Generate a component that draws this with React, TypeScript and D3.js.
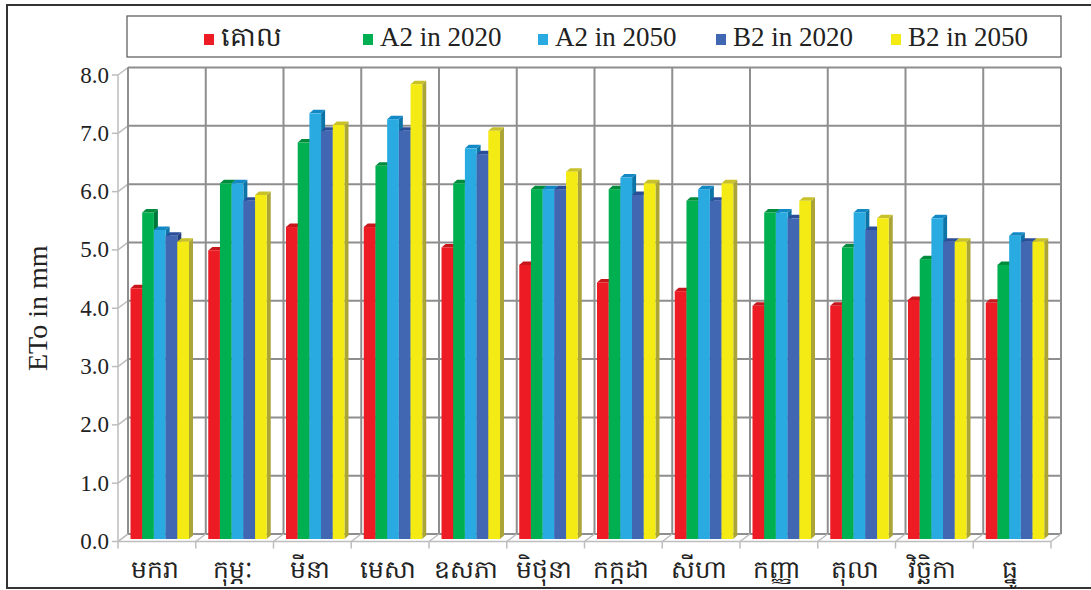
import React from "react";
import * as d3 from "d3";

const months = ["មករា", "កុម្ភៈ", "មីនា", "មេសា", "ឧសភា", "មិថុនា", "កក្កដា", "សីហា", "កញ្ញា", "តុលា", "វិច្ឆិកា", "ធ្នូ"];
const seriesNames = ["គោល", "A2 in 2020", "A2 in 2050", "B2 in 2020", "B2 in 2050"];
const baseline = [4.3, 4.95, 5.35, 5.35, 5.0, 4.7, 4.4, 4.25, 4.0, 4.0, 4.1, 4.05];
const a2in2020 = [5.6, 6.1, 6.8, 6.4, 6.1, 6.0, 6.0, 5.8, 5.6, 5.0, 4.8, 4.7];
const a2in2050 = [5.3, 6.1, 7.3, 7.2, 6.7, 6.0, 6.2, 6.0, 5.6, 5.6, 5.5, 5.2];
const b2in2020 = [5.2, 5.8, 7.0, 7.0, 6.6, 6.0, 5.9, 5.8, 5.5, 5.3, 5.1, 5.1];
const b2in2050 = [5.1, 5.9, 7.1, 7.8, 7.0, 6.3, 6.1, 6.1, 5.8, 5.5, 5.1, 5.1];
const yTicks = [0, 1, 2, 3, 4, 5, 6, 7, 8];

const seriesValues = [baseline, a2in2020, a2in2050, b2in2020, b2in2050];
const colors = ["#ED1C24", "#00B050", "#29ABE2", "#4267B2", "#F4EA14"];
const topColors = ["#C8161D", "#008C3C", "#1288C4", "#2A4E98", "#C9C12A"];
const sideColors = ["#A91218", "#00773A", "#0D74A8", "#22407F", "#ABA437"];

// layout
const W = 1091, H = 590;
const FX0 = 118, FX1 = 1051; // front plane x extent
const DX = 10, DY = 7.5; // wall depth offset
const FY0 = 541.5, FY8 = 75; // front axis range
const BAR_DEPTH = 0.33;
const legendX = [204, 363, 538, 716, 891];

export default function App() {
  const yFront = d3.scaleLinear().domain([0, 8]).range([FY0, FY8]);
  const yBack = d3.scaleLinear().domain([0, 8]).range([FY0 - DY, FY8 - DY]);
  const yBar = d3.scaleLinear().domain([0, 8]).range([FY0 - DY * BAR_DEPTH, FY8 - DY * BAR_DEPTH]);
  const xFront = d3.scaleBand<string>().domain(months).range([FX0, FX1]).padding(0);
  const xInner = d3.scaleBand<number>().domain(d3.range(seriesNames.length)).range([12.5, 71]).padding(0);
  const bw = xInner.bandwidth();
  const tdx = 4, tdy = 3.5;

  const gridColor = "#8E8E8E";
  const floorColor = "#BDBDBD";
  const font = "'Liberation Serif', 'Times New Roman', serif";

  const boundaries = d3.range(months.length + 1).map((i) => FX0 + i * xFront.step());

  return (
    <svg width={W} height={H} style={{ position: "absolute", left: 0, top: 0, background: "#fff" }} fontFamily={font}>
      <rect x={0} y={0} width={W} height={H} fill="#fff" />
      {/* outer frame */}
      <rect x={7} y={5} width={W + 10} height={583} fill="none" stroke="#333" strokeWidth={2} />

      {/* left side wall */}
      <g stroke={floorColor} strokeWidth={1.5} fill="none">
        <line x1={FX0} y1={yFront(0)} x2={FX0} y2={yFront(8)} />
        {yTicks.map((t) => (
          <line key={t} x1={FX0} y1={yFront(t)} x2={FX0 + DX} y2={yBack(t)} />
        ))}
      </g>
      {/* back wall grid */}
      <g stroke={gridColor} strokeWidth={2} fill="none">
        {yTicks.map((t) => (
          <line key={t} x1={FX0 + DX} y1={yBack(t)} x2={FX1 + DX} y2={yBack(t)} />
        ))}
        {boundaries.map((bx, i) => (
          <line key={i} x1={bx + DX} y1={yBack(0)} x2={bx + DX} y2={yBack(8)} />
        ))}
      </g>
      {/* floor */}
      <g stroke={floorColor} strokeWidth={1.5} fill="none">
        <line x1={FX0} y1={yFront(0)} x2={FX1} y2={yFront(0)} />
        {boundaries.map((bx, i) => (
          <g key={i}>
            <line x1={bx} y1={yFront(0)} x2={bx + DX} y2={yBack(0)} />
            <line x1={bx} y1={yFront(0)} x2={bx} y2={yFront(0) + 7} />
          </g>
        ))}
      </g>
      {/* y ticks */}
      <g stroke={floorColor} strokeWidth={1.5}>
        {yTicks.map((t) => (
          <line key={t} x1={FX0 - 6} y1={yFront(t)} x2={FX0} y2={yFront(t)} />
        ))}
      </g>
      <g fontSize={23} fill="#222" textAnchor="end">
        {yTicks.map((t) => (
          <text key={t} x={109} y={yFront(t) + 7.5}>{d3.format(".1f")(t)}</text>
        ))}
      </g>
      <text transform={`translate(47, ${(yFront(0) + yFront(8)) / 2}) rotate(-90)`} textAnchor="middle" fontSize={28} fill="#222">ETo in mm</text>

      {/* bars */}
      {months.map((m, i) => (
        <g key={m}>
          {seriesValues.map((vals, j) => {
            const x = (xFront(m) as number) + (xInner(j) as number);
            const y = yBar(vals[i]);
            const y0 = yBar(0);
            return (
              <g key={j}>
                <polygon points={`${x + bw},${y} ${x + bw + tdx},${y - tdy} ${x + bw + tdx},${y0 - tdy} ${x + bw},${y0}`} fill={sideColors[j]} />
                <polygon points={`${x},${y} ${x + tdx},${y - tdy} ${x + bw + tdx},${y - tdy} ${x + bw},${y}`} fill={topColors[j]} />
                <rect x={x} y={y} width={bw} height={y0 - y} fill={colors[j]} />
              </g>
            );
          })}
        </g>
      ))}

      {/* x labels */}
      <g fontSize={25} fill="#222" textAnchor="middle">
        {months.map((m) => (
          <text key={m} x={(xFront(m) as number) + xFront.bandwidth() / 2 - 2} y={578}>{m}</text>
        ))}
      </g>

      {/* legend */}
      <rect x={127} y={16} width={934} height={41} fill="#fff" stroke="#555" strokeWidth={1.2} />
      {seriesNames.map((s, j) => (
        <g key={s} transform={`translate(${legendX[j]}, 0)`}>
          <rect x={0} y={34} width={10} height={11} fill={colors[j]} />
          <text x={17} y={46} fontSize={27} fill="#222">{s}</text>
        </g>
      ))}
    </svg>
  );
}
